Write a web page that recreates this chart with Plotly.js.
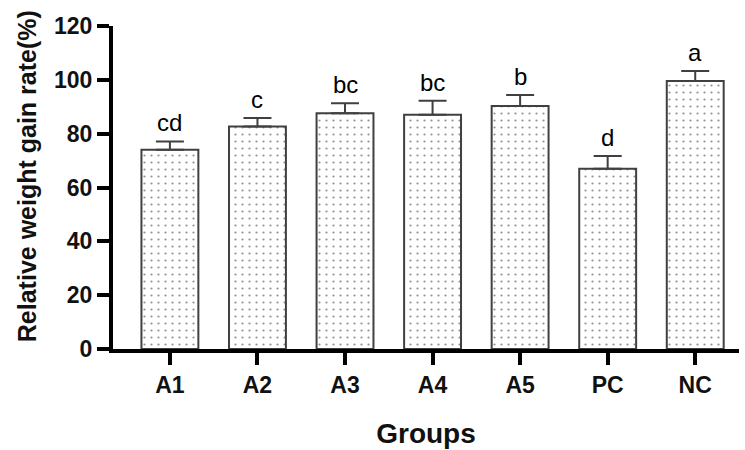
<!DOCTYPE html>
<html>
<head>
<meta charset="utf-8">
<script src="https://cdn.plot.ly/plotly-3.0.1.min.js"></script>
<style>html,body{margin:0;padding:0;background:#fff;}#chart{width:745px;height:450px;}</style>
</head>
<body>
<div id="chart"></div>
<script>
var groups = ["A1", "A2", "A3", "A4", "A5", "PC", "NC"];
var values = [74.0, 82.7, 87.6, 87.0, 90.3, 67.0, 99.6];
var errors = [3.1, 3.1, 3.7, 5.2, 4.1, 4.7, 3.7];
var letters = ["cd", "c", "bc", "bc", "b", "d", "a"];
var yTicks = [0, 20, 40, 60, 80, 100, 120];
var yTitle = "Relative weight gain rate(%)";
var xTitle = "Groups";

var trace = {
  type: "bar",
  x: groups,
  y: values,
  width: 0.65,
  marker: {
    color: "white",
    line: {color: "#404040", width: 2},
    pattern: {shape: ".", size: 7, solidity: 0.08, fgcolor: "#222", bgcolor: "white", fillmode: "overlay"}
  },
  error_y: {
    type: "data",
    symmetric: false,
    array: errors,
    arrayminus: errors.map(function(){return 0;}),
    color: "#404040",
    thickness: 2,
    width: 14
  },
  hoverinfo: "none"
};

var annotations = groups.map(function(g, i){
  return {
    x: g, y: values[i] + errors[i], xref: "x", yref: "y",
    text: letters[i], showarrow: false, yanchor: "bottom", yshift: 3,
    font: {family: "Liberation Sans, Arial, sans-serif", size: 24, color: "#000"}
  };
});
annotations.push({
  xref: "paper", yref: "paper", x: 0, y: 0.535, xshift: -86,
  xanchor: "center", yanchor: "middle", textangle: -90, showarrow: false,
  text: yTitle,
  font: {family: "Liberation Sans, Arial, sans-serif", size: 25, color: "#111", weight: "bold"}
});

var layout = {
  width: 745, height: 450,
  margin: {l: 113, r: 6, t: 26, b: 101},
  paper_bgcolor: "white", plot_bgcolor: "white",
  showlegend: false,
  font: {family: "Liberation Sans, Arial, sans-serif", color: "#000"},
  xaxis: {
    type: "category",
    range: [-0.65, 6.5],
    showline: true, linecolor: "#000", linewidth: 4,
    ticks: "outside", ticklen: 12, tickwidth: 4, tickcolor: "#000",
    showgrid: false, zeroline: false,
    tickfont: {family: "Liberation Sans, Arial, sans-serif", size: 23, color: "#111", weight: "bold"},
    title: {text: xTitle, font: {family: "Liberation Sans, Arial, sans-serif", size: 28, color: "#111", weight: "bold"}, standoff: 28}
  },
  yaxis: {
    range: [0, 120],
    tickvals: yTicks,
    ticktext: yTicks.map(String),
    showline: true, linecolor: "#000", linewidth: 4,
    ticks: "outside", ticklen: 12, tickwidth: 4, tickcolor: "#000",
    showgrid: false, zeroline: false,
    tickfont: {family: "Liberation Sans, Arial, sans-serif", size: 23, color: "#111", weight: "bold"}
  },
  annotations: annotations
};

Plotly.newPlot("chart", [trace], layout, {staticPlot: true, displayModeBar: false});
</script>
</body>
</html>
